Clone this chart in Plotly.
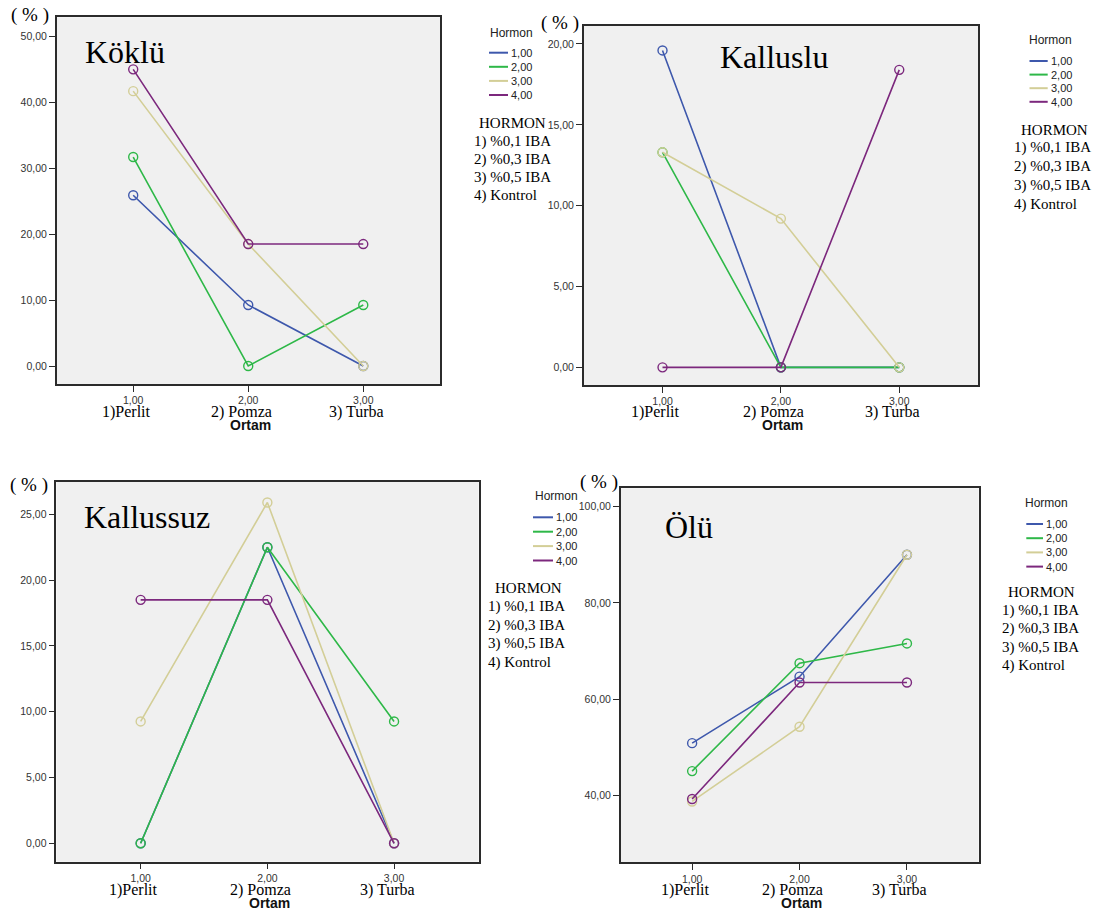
import plotly.graph_objects as go

W, H = 1104, 913

# Ortam (medium) positions and labels
ortam_x = [1, 2, 3]
ortam_ticktext = ["1,00", "2,00", "3,00"]
ortam_names = ["1)Perlit", "2) Pomza", "3) Turba"]

hormon_codes = ["1,00", "2,00", "3,00", "4,00"]
hormon_names = ["1) %0,1 IBA", "2) %0,3 IBA", "3) %0,5 IBA", "4) Kontrol"]
hormon_colors = ["#3E58AC", "#2EB848", "#D3CE97", "#7C287D"]

# Percentages per hormone (rows) and medium (columns)
koklu_h1 = [25.9, 9.26, 0.0]
koklu_h2 = [31.7, 0.0, 9.26]
koklu_h3 = [41.7, 18.5, 0.0]
koklu_h4 = [45.0, 18.5, 18.5]

kalluslu_h1 = [19.6, 0.0, 0.0]
kalluslu_h2 = [13.3, 0.0, 0.0]
kalluslu_h3 = [13.3, 9.2, 0.0]
kalluslu_h4 = [0.0, 0.0, 18.4]

kallussuz_h1 = [0.0, 22.5, 0.0]
kallussuz_h2 = [0.0, 22.5, 9.26]
kallussuz_h3 = [9.26, 25.9, 0.0]
kallussuz_h4 = [18.5, 18.5, 0.0]

olu_h1 = [50.9, 64.7, 90.0]
olu_h2 = [45.1, 67.5, 71.6]
olu_h3 = [38.8, 54.3, 90.0]
olu_h4 = [39.3, 63.5, 63.5]

koklu_yticks = [0, 10, 20, 30, 40, 50]
koklu_yticktext = ["0,00", "10,00", "20,00", "30,00", "40,00", "50,00"]
kalluslu_yticks = [0, 5, 10, 15, 20]
kalluslu_yticktext = ["0,00", "5,00", "10,00", "15,00", "20,00"]
kallussuz_yticks = [0, 5, 10, 15, 20, 25]
kallussuz_yticktext = ["0,00", "5,00", "10,00", "15,00", "20,00", "25,00"]
olu_yticks = [40, 60, 80, 100]
olu_yticktext = ["40,00", "60,00", "80,00", "100,00"]


def px(x):
    return x / W


def py(y):
    return 1 - y / H


panels = [
    dict(title="Köklü", series=[koklu_h1, koklu_h2, koklu_h3, koklu_h4],
         yticks=koklu_yticks, ytext=koklu_yticktext, yrange=[-2.73, 52.9],
         box=(56.7, 440, 17.3, 384), title_xy=(124.5, 52), pct_xy=(30, 15),
         cat_y=412, ortam_y=425,
         leg=dict(tx=511.5, ty=33, l0=489, l1=508, ly=52.7, ls=14.1,
                  hx=512, hy=123, ix=472, iy=141, isp=18.3)),
    dict(title="Kalluslu", series=[kalluslu_h1, kalluslu_h2, kalluslu_h3, kalluslu_h4],
         yticks=kalluslu_yticks, ytext=kalluslu_yticktext, yrange=[-1.09, 21.13],
         box=(583.8, 978.2, 25.7, 385), title_xy=(774, 57), pct_xy=(560, 23),
         cat_y=412, ortam_y=425,
         leg=dict(tx=1050, ty=40, l0=1029.5, l1=1047.7, ly=61, ls=13.6,
                  hx=1054, hy=130, ix=1012, iy=147.7, isp=18.8)),
    dict(title="Kallussuz", series=[kallussuz_h1, kallussuz_h2, kallussuz_h3, kallussuz_h4],
         yticks=kallussuz_yticks, ytext=kallussuz_yticktext, yrange=[-1.4, 27.48],
         box=(56.4, 478.6, 481.7, 861.7), title_xy=(147, 517), pct_xy=(29, 485),
         cat_y=890, ortam_y=903,
         leg=dict(tx=556, ty=496, l0=533, l1=553, ly=517.3, ls=14.4,
                  hx=528, hy=588.3, ix=486, iy=606.7, isp=18.5)),
    dict(title="Ölü", series=[olu_h1, olu_h2, olu_h3, olu_h4],
         yticks=olu_yticks, ytext=olu_yticktext, yrange=[26.17, 103.8],
         box=(620.7, 978.6, 488.3, 862.3), title_xy=(689, 527), pct_xy=(599, 482),
         cat_y=890, ortam_y=903,
         leg=dict(tx=1046.5, ty=502.7, l0=1026.3, l1=1043, ly=524, ls=14.2,
                  hx=1041, hy=591.7, ix=999.5, iy=610, isp=18.6)),
]

fig = go.Figure()
annotations = []
shapes = []
serif = "Liberation Serif"
sans = "Liberation Sans"

for i, p in enumerate(panels):
    n = "" if i == 0 else str(i + 1)
    xa, ya = "x" + n, "y" + n
    x0, x1, y0, y1 = p["box"]
    for k, vals in enumerate(p["series"]):
        fig.add_trace(go.Scatter(
            x=ortam_x, y=vals, mode="lines+markers", xaxis=xa, yaxis=ya,
            name=hormon_codes[k], showlegend=False, cliponaxis=False,
            line=dict(color=hormon_colors[k], width=1.6),
            marker=dict(symbol="circle-open", size=9,
                        line=dict(color=hormon_colors[k], width=1.4)),
        ))
    axis_common = dict(showline=True, mirror=True, linecolor="#2b2b2b", linewidth=1.5,
                       showgrid=False, zeroline=False, ticks="outside", ticklen=6,
                       tickwidth=1.3, tickcolor="#2b2b2b",
                       tickfont=dict(family=sans, size=10.5, color="#333333"))
    fig.layout["xaxis" + n] = dict(
        domain=[px(x0), px(x1)], anchor=ya, range=[0.335, 3.667],
        tickvals=ortam_x, ticktext=ortam_ticktext, ticklabelstandoff=0, **axis_common)
    fig.layout["yaxis" + n] = dict(
        domain=[py(y1), py(y0)], anchor=xa, range=p["yrange"],
        tickvals=p["yticks"], ticktext=p["ytext"], ticklabelstandoff=0, **axis_common)

    # medium names under the tick values
    for cx, name in zip(ortam_x, ortam_names):
        annotations.append(dict(x=cx, y=py(p["cat_y"]), xref=xa, yref="paper",
                                text=name, showarrow=False, xshift=-7,
                                font=dict(family=serif, size=16, color="black"),
                                xanchor="center", yanchor="middle"))
    annotations.append(dict(x=2, y=py(p["ortam_y"]), xref=xa, yref="paper",
                            text="<b>Ortam</b>", showarrow=False, xshift=2,
                            font=dict(family=sans, size=14, color="#111111"),
                            xanchor="center", yanchor="middle"))
    # panel title and unit
    tx, ty = p["title_xy"]
    annotations.append(dict(x=px(tx), y=py(ty), xref="paper", yref="paper",
                            text=p["title"], showarrow=False,
                            font=dict(family=serif, size=32, color="black"),
                            xanchor="center", yanchor="middle"))
    cx, cy = p["pct_xy"]
    annotations.append(dict(x=px(cx), y=py(cy), xref="paper", yref="paper",
                            text="( % )", showarrow=False,
                            font=dict(family=serif, size=19, color="black"),
                            xanchor="center", yanchor="middle"))

    # hormone key
    lg = p["leg"]
    annotations.append(dict(x=px(lg["tx"]), y=py(lg["ty"]), xref="paper", yref="paper",
                            text="Hormon", showarrow=False,
                            font=dict(family=sans, size=12, color="#222222"),
                            xanchor="center", yanchor="middle"))
    for k, code in enumerate(hormon_codes):
        yy = lg["ly"] + k * lg["ls"]
        shapes.append(dict(type="line", xref="paper", yref="paper",
                           x0=px(lg["l0"]), x1=px(lg["l1"]), y0=py(yy), y1=py(yy),
                           line=dict(color=hormon_colors[k], width=2)))
        annotations.append(dict(x=px(lg["l1"] + 1), y=py(yy), xref="paper", yref="paper",
                                text=code, showarrow=False,
                                font=dict(family=sans, size=11, color="#222222"),
                                xanchor="left", yanchor="middle"))
    annotations.append(dict(x=px(lg["hx"]), y=py(lg["hy"]), xref="paper", yref="paper",
                            text="HORMON", showarrow=False,
                            font=dict(family=serif, size=15, color="black"),
                            xanchor="center", yanchor="middle"))
    for k, name in enumerate(hormon_names):
        annotations.append(dict(x=px(lg["ix"]), y=py(lg["iy"] + k * lg["isp"]),
                                xref="paper", yref="paper", text=name, showarrow=False,
                                font=dict(family=serif, size=15, color="black"),
                                xanchor="left", yanchor="middle"))

fig.update_layout(
    width=W, height=H, margin=dict(l=0, r=0, t=0, b=0),
    paper_bgcolor="white", plot_bgcolor="#F0F0F0",
    annotations=annotations, shapes=shapes, showlegend=False,
)

fig.write_html("out.html")
